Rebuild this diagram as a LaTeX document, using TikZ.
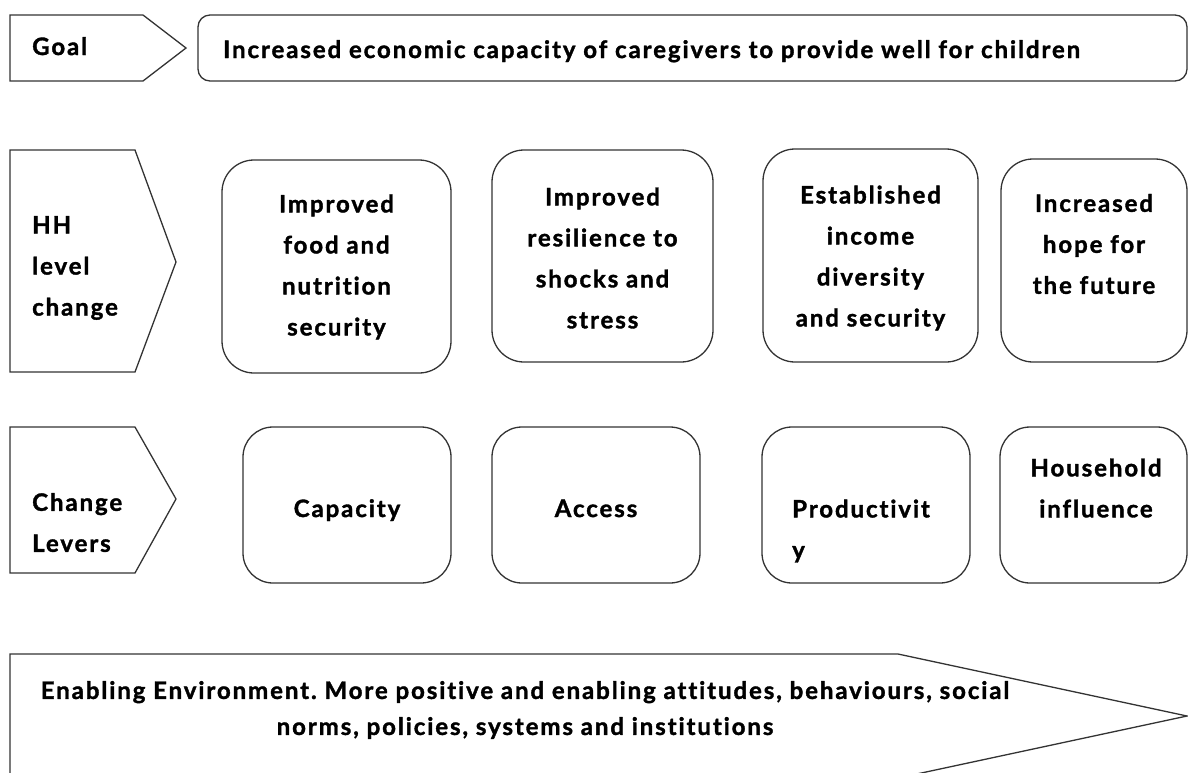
\documentclass[tikz,border=0pt]{standalone}
\usepackage{fontspec}
\setmainfont{Lato}[BoldFont={Lato Bold}, BoldFeatures={FakeBold=1.5}, LetterSpace=8, Ligatures=NoCommon]
\frenchspacing
\tikzset{
  outl/.style={draw=black!80, line width=1.3pt},
  lbl/.style={font=\fontsize{24}{41}\selectfont\bfseries, inner sep=0pt, text=black},
  hbox/.style={outl, rounded corners=32pt, inner sep=0pt},
  boxtxt/.style={lbl, align=center},
}
\begin{document}
\begin{tikzpicture}[x=1pt,y=-1pt]
\useasboundingbox (0,0) rectangle (1188,772);
% Row 1: goal
\draw[outl] (10,15) -- (143,15) -- (186,48) -- (143,81) -- (10,81) -- cycle;
\node[lbl, anchor=base west] (goal) at (32,55) {Goal};
\node[outl, rounded corners=12pt, minimum width=989pt, minimum height=66pt, inner sep=0pt] (goalbox) at (692.5,48) {};
\node[lbl, anchor=base west] (goaltxt) at (223,58) {Increased economic capacity of caregivers to provide well for children};
% Row 2: HH level change
\draw[outl] (10,150) -- (135,150) -- (176,262) -- (135,372) -- (10,372) -- cycle;
\node[lbl, align=left, anchor=west] (hh) at (32,268) {HH\\level\\change};
\node[hbox, minimum width=229pt, minimum height=213pt] (b1) at (336.5,266.5) {};
\node[boxtxt] (b1t) at (336.5,267) {Improved\\food and\\nutrition\\security};
\node[hbox, minimum width=221pt, minimum height=212pt] (b2) at (602.5,256) {};
\node[boxtxt] (b2t) at (602.5,258) {Improved\\resilience to\\shocks and\\stress};
\node[hbox, minimum width=215pt, minimum height=213pt] (b3) at (870.5,255.5) {};
\node[boxtxt] (b3t) at (870.5,258) {Established\\income\\diversity\\and security};
\node[hbox, minimum width=186pt, minimum height=203pt] (b4) at (1094,260.5) {};
\node[boxtxt] (b4t) at (1094,244) {Increased\\hope for\\the future};
% Row 3: change levers
\draw[outl] (10,427) -- (135,427) -- (176,499) -- (135,573) -- (10,573) -- cycle;
\node[lbl, align=left, anchor=west] (cl) at (32,522.5) {Change\\Levers};
\node[hbox, rounded corners=30pt, minimum width=208pt, minimum height=156pt] (l1) at (347,505) {};
\node[lbl, anchor=base] (l1t) at (347,517) {Capacity};
\node[hbox, rounded corners=30pt, minimum width=208pt, minimum height=156pt] (l2) at (596,505) {};
\node[lbl, anchor=base] (l2t) at (596,517) {Access};
\node[hbox, rounded corners=30pt, minimum width=208pt, minimum height=156pt] (l3) at (866,505) {};
\node[lbl, align=left, anchor=west] (l3t) at (792,531) {Productivit\\y};
\node[hbox, rounded corners=30pt, minimum width=187pt, minimum height=156pt] (l4) at (1093.5,505) {};
\node[boxtxt] (l4t) at (1096,488) {Household\\influence};
% Row 4: enabling environment
\draw[outl] (10,654) -- (898,654) -- (1187,716) -- (898,778) -- (10,778) -- cycle;
\node[lbl, font=\fontsize{24}{36}\selectfont\bfseries, align=center] (env) at (525,710) {Enabling Environment. More positive and enabling attitudes, behaviours, social\\norms, policies, systems and institutions};
\end{tikzpicture}
\end{document}
